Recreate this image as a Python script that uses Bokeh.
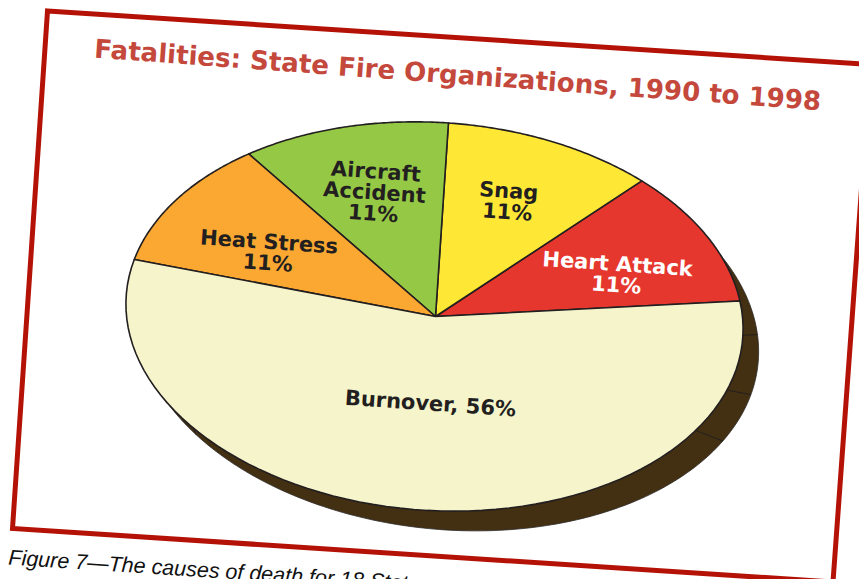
import numpy as np
from bokeh.plotting import figure
from bokeh.models import Range1d
from bokeh.core.properties import value
from bokeh.embed import file_html
from bokeh.resources import INLINE

# ---- data ----
title_text = "Fatalities: State Fire Organizations, 1990 to 1998"
caption_text = "Figure 7\u2014The causes of death for 18 State"
categories = ["Heart Attack", "Snag", "Aircraft Accident", "Heat Stress", "Burnover"]
percent = [11, 11, 11, 11, 56]
label_lines = [["Heart Attack", "11%"], ["Snag", "11%"], ["Aircraft", "Accident", "11%"],
               ["Heat Stress", "11%"], ["Burnover, 56%"]]

# ---- style / layout ----
colors = ["#e6372e", "#ffe835", "#95c945", "#faa831", "#f5f4cb"]
label_colors = ["#ffffff", "#231f20", "#231f20", "#231f20", "#231f20"]
label_centres = [(616.5, 274), (507.5, 201), (374, 192), (268, 252), (430, 403)]
LINE_H = 21
FRAME = [(47, 10.5), (870, 64), (832.5, 581.5), (12, 528)]
TOP = dict(cx=434, cy=316, a=309, b=194, rot=3.8)
LOW = dict(cx=447, cy=333, a=312, b=196, rot=5.5)
START_DEG = 10.6
WALL_TOP_DEG = [0.5, -16.2, -29.8, 221]
WALL_LOW_DEG = [8.4, -9.3, -24.3, 219.5]
TILT = np.radians(3.9)
TITLE_TILT = np.radians(4.15)
CAP_TILT = np.radians(3.7)
HEAVY = value("DejaVu Sans")


def ell(e, deg):
    t = np.radians(np.asarray(deg, dtype=float))
    u, v = e["a"] * np.cos(t), -e["b"] * np.sin(t)
    r = np.radians(e["rot"])
    return e["cx"] + u * np.cos(r) - v * np.sin(r), e["cy"] + u * np.sin(r) + v * np.cos(r)


p = figure(width=859, height=579, x_range=Range1d(0, 859), y_range=Range1d(579, 0),
           toolbar_location=None, output_backend="svg",
           x_axis_location=None, y_axis_location=None, min_border=0)
p.grid.visible = False
p.outline_line_color = None
p.background_fill_color = "white"
p.border_fill_color = "white"

# frame
p.patch([c[0] for c in FRAME], [c[1] for c in FRAME], fill_color=None,
        line_color="#b51207", line_width=5, line_join="miter")

# depth
lx, ly = ell(LOW, np.linspace(0, 360, 361))
p.patch(lx, ly, fill_color="#432f12", line_color="#2b2a2a", line_width=0.8)
x0, y0 = ell(TOP, WALL_TOP_DEG)
x1, y1 = ell(LOW, WALL_LOW_DEG)
p.segment(x0, y0, x1, y1, line_color="#23201c", line_width=1)

# wedges
edges = START_DEG + np.concatenate([[0], np.cumsum(percent)]) * 3.6
xs, ys = [], []
for i in range(len(percent)):
    ex, ey = ell(TOP, np.linspace(edges[i], edges[i + 1], 80))
    xs.append(np.concatenate([[TOP["cx"] + 1], ex]).tolist())
    ys.append(np.concatenate([[TOP["cy"]], ey]).tolist())
p.patches(xs, ys, fill_color=colors, line_color="#231f20", line_width=1.6, line_join="round")

# labels
tx, ty, tt, tc = [], [], [], []
for lines, (cx, cy), col in zip(label_lines, label_centres, label_colors):
    for j, line in enumerate(lines):
        off = (j - (len(lines) - 1) / 2) * LINE_H
        tx.append(cx - off * np.sin(TILT))
        ty.append(cy + off * np.cos(TILT))
        tt.append(line)
        tc.append(col)
p.text(tx, ty, text=tt, text_color=tc, text_font=HEAVY, text_font_style="bold",
       text_font_size="21px", text_align="center", text_baseline="middle", angle=-TILT)

p.text([94], [48], text=[title_text], text_color="#c4483c", text_font=HEAVY,
       text_font_style="bold", text_font_size="26.1px", text_align="left",
       text_baseline="alphabetic", angle=-TITLE_TILT)
p.text([8], [557], text=[caption_text], text_color="#111111", text_font=value("Liberation Sans"),
       text_font_style="italic", text_font_size="21.5px", text_align="left",
       text_baseline="alphabetic", angle=-CAP_TILT)

open("out.html", "w").write(file_html(p, INLINE))
